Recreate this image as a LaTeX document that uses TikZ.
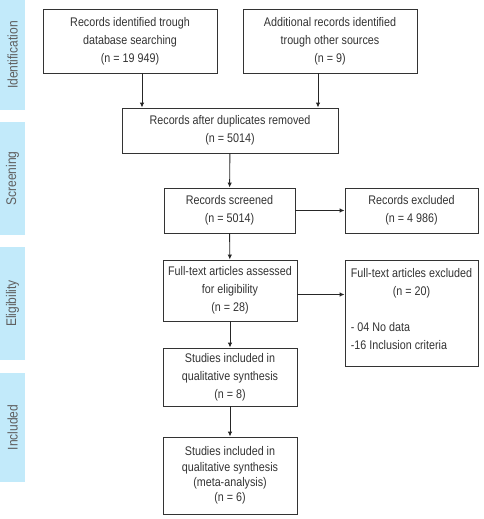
\documentclass[tikz,border=0pt]{standalone}
\usepackage{fontspec}
\setmainfont{Liberation Sans}[FakeStretch=0.86]
\usetikzlibrary{arrows.meta,positioning}

\definecolor{barblue}{HTML}{C2EAFA}
\definecolor{bartext}{HTML}{606060}

\tikzset{
  phase/.style={fill=barblue,rotate=90,minimum height=25pt,inner sep=0pt,
    text=bartext,font=\fontsize{14}{16}\selectfont},
  box/.style={draw=black!80,line width=0.9pt,align=center,inner sep=2pt,
    font=\fontsize{12.5}{18}\selectfont,text=black!80},
  arr/.style={-{Latex[length=5pt,width=4.5pt]},line width=0.9pt,draw=black!85}
}

\begin{document}
\begin{tikzpicture}[x=1pt,y=-1pt]
\useasboundingbox (0,0) rectangle (483,519);

% phases
\node[phase,minimum width=110pt] (ident) at (12.5,55) {Identification};
\node[phase,minimum width=113pt] (scr) at (12.5,178.5) {Screening};
\node[phase,minimum width=113pt] (elig) at (12.5,303.5) {Eligibility};
\node[phase,minimum width=109pt] (incl) at (12.5,427.5) {Included};

% boxes
\node[box,minimum width=174pt,minimum height=64pt] (db) at (130,41)
  {Records identified trough\\database searching\\(n = 19 949)};
\node[box,minimum width=174pt,minimum height=64pt] (other) at (330,41)
  {Additional records identified\\trough other sources\\(n = 9)};
\node[box,minimum width=216pt,minimum height=45pt] (dup) at (230,130.5)
  {Records after duplicates removed\\(n = 5014)};
\node[box,minimum width=131pt,minimum height=45pt] (scrd) at (229.5,210.5)
  {Records screened\\(n = 5014)};
\node[box,minimum width=133pt,minimum height=45pt] (excl) at (411.5,210.5)
  {Records excluded\\(n = 4 986)};
\node[box,minimum width=134pt,minimum height=61pt] (full) at (230,290.5)
  {Full-text articles assessed\\for eligibility\\(n = 28)};
\node[box,minimum width=133pt,minimum height=106pt] (fullex) at (411.5,313)
  {\begin{tabular}{@{}l@{}}
   \multicolumn{1}{@{}c@{}}{Full-text articles excluded}\\
   \multicolumn{1}{@{}c@{}}{(n = 20)}\\
   \\
   - 04 No data\\
   -16 Inclusion criteria\\[6pt]
   \end{tabular}};
\node[box,minimum width=134pt,minimum height=58pt] (qual) at (230,377)
  {Studies included in\\qualitative synthesis\\(n = 8)};
\node[box,minimum width=134pt,minimum height=77pt,font=\fontsize{12.5}{15.3}\selectfont] (meta) at (230,475.5)
  {Studies included in\\qualitative synthesis\\(meta-analysis)\\(n = 6)};

% arrows
\draw[arr] ([xshift=12pt]db.south) -- ([xshift=12pt]db.south |- dup.north);
\draw[arr] ([xshift=-12pt]other.south) -- ([xshift=-12pt]other.south |- dup.north);
\draw[arr] (dup) -- (scrd);
\draw[arr] (scrd) -- (excl);
\draw[arr] (scrd) -- (full);
\draw[arr] ([yshift=-4pt]full.east) -- ([yshift=-4pt]full.east -| fullex.west);
\draw[arr] (full) -- (qual);
\draw[arr] (qual) -- (meta);

\end{tikzpicture}
\end{document}
